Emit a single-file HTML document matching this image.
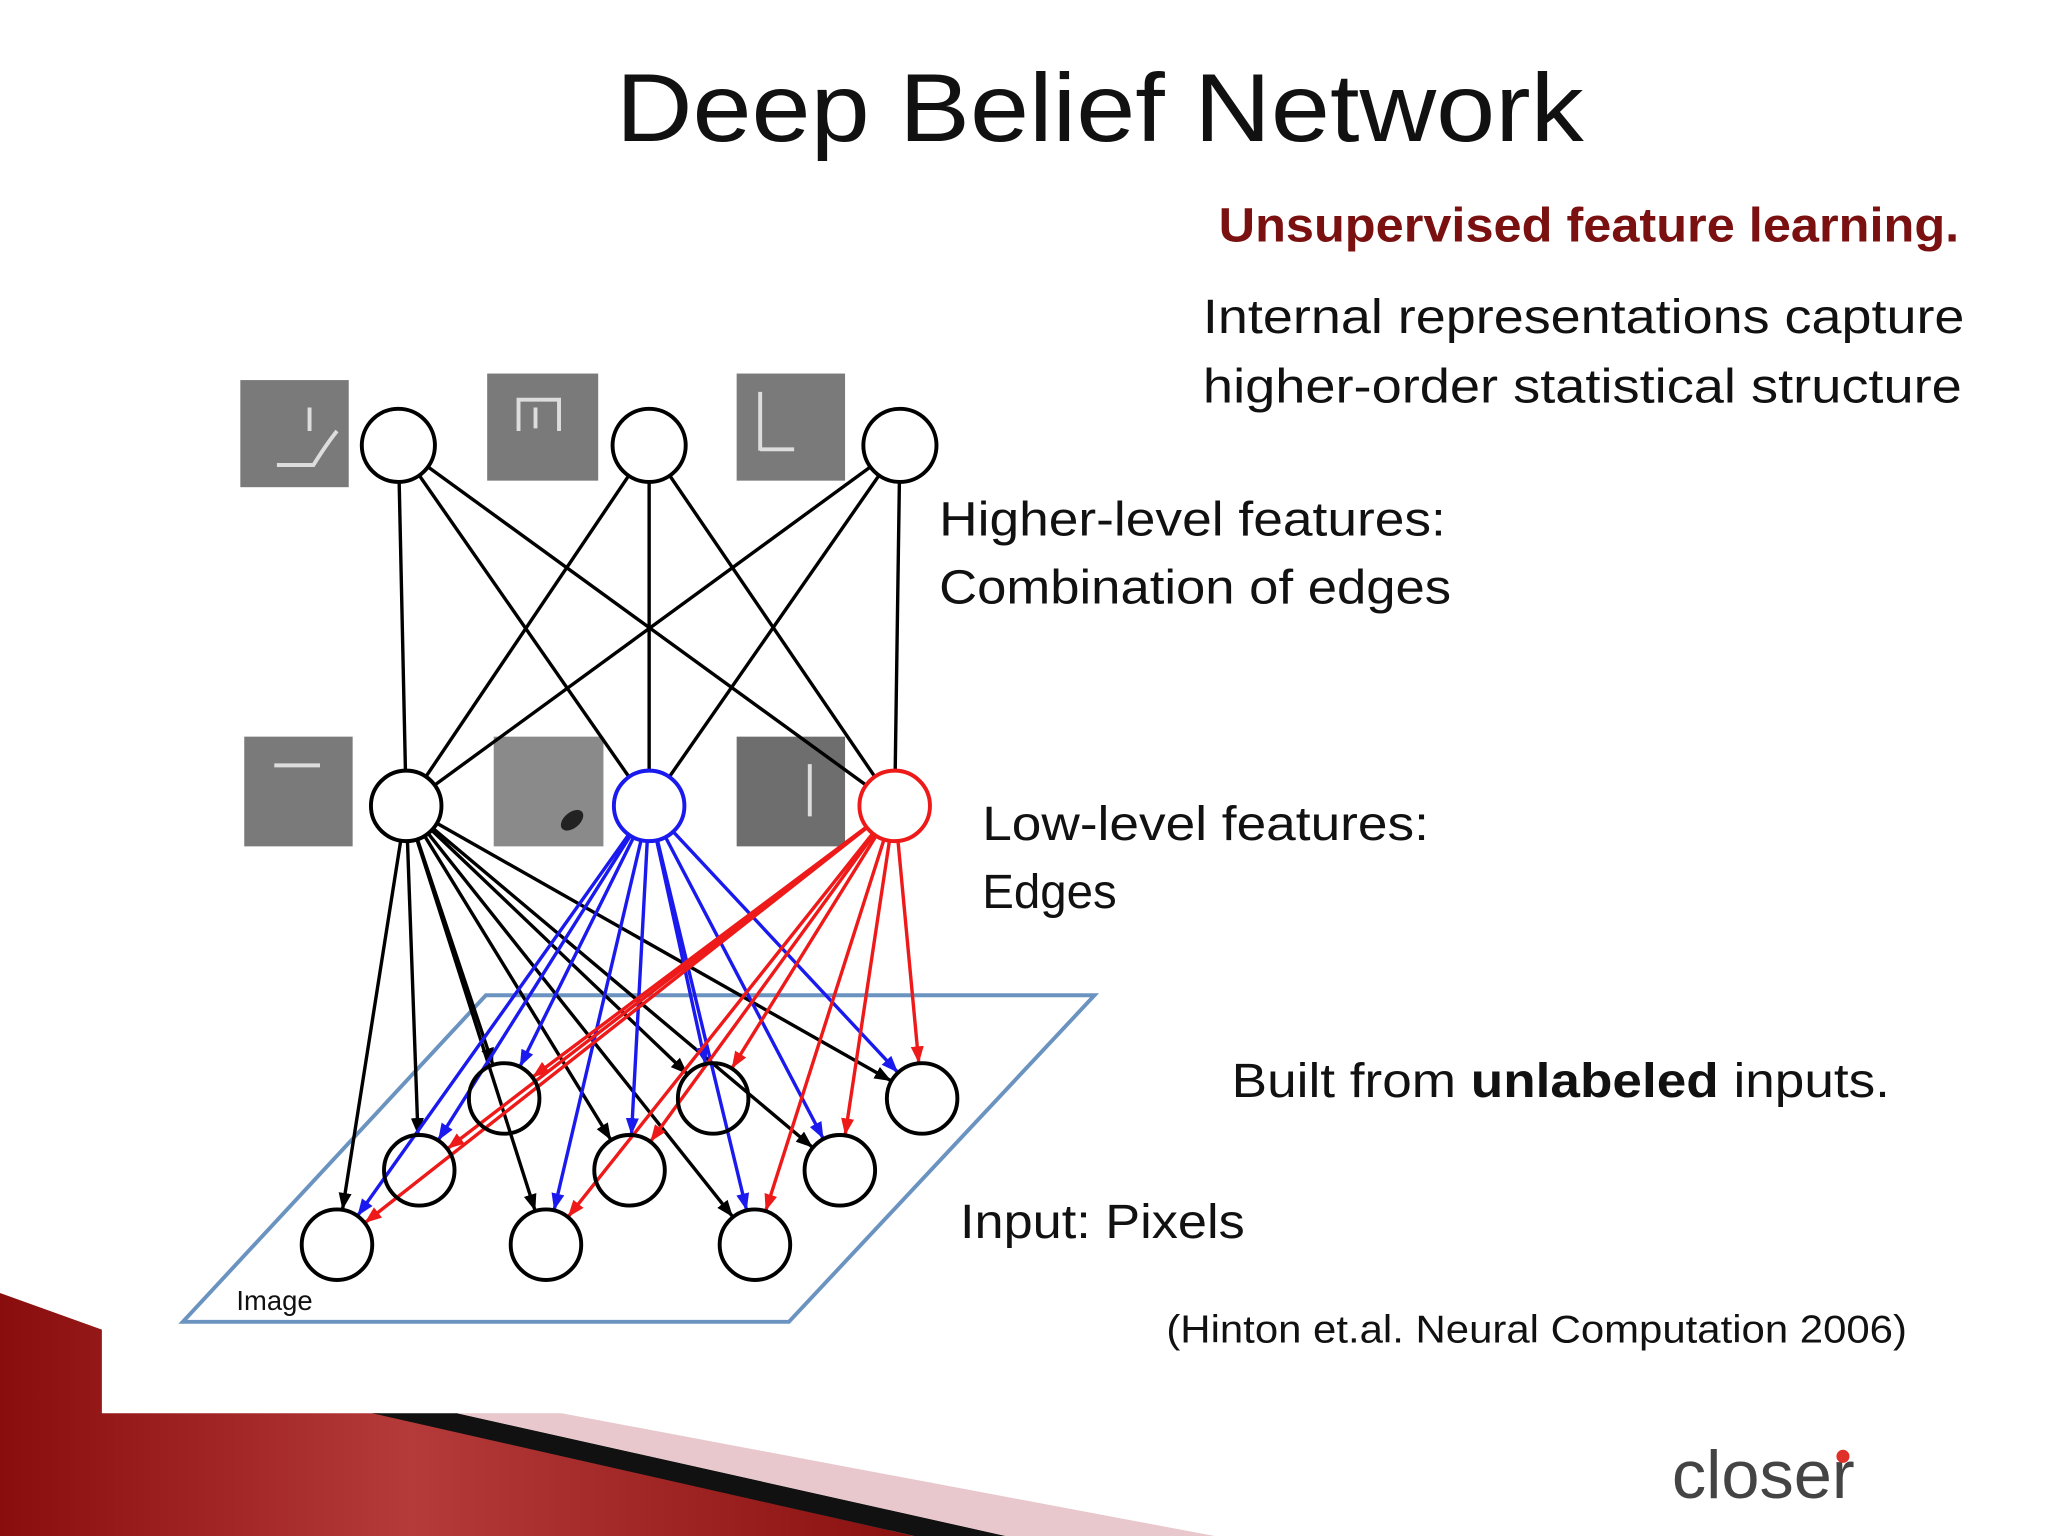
<!DOCTYPE html>
<html><head><meta charset="utf-8"><style>
html,body{margin:0;padding:0;background:#fff;}
svg{display:block;}
text{font-family:"Liberation Sans",sans-serif;}
</style></head><body>
<svg id="s" width="2048" height="1536" viewBox="0 0 1568 1176" xmlns="http://www.w3.org/2000/svg">
<defs>
<marker id="mk" markerWidth="13" markerHeight="12" refX="12" refY="6" orient="auto" markerUnits="userSpaceOnUse"><path d="M0,1 L13,6 L0,11 z" fill="#000"/></marker>
<marker id="mb" markerWidth="13" markerHeight="12" refX="12" refY="6" orient="auto" markerUnits="userSpaceOnUse"><path d="M0,1 L13,6 L0,11 z" fill="#1a1aee"/></marker>
<marker id="mr" markerWidth="13" markerHeight="12" refX="12" refY="6" orient="auto" markerUnits="userSpaceOnUse"><path d="M0,1 L13,6 L0,11 z" fill="#ee1a1a"/></marker>
<linearGradient id="rg" x1="0" y1="0" x2="1" y2="0">
<stop offset="0" stop-color="#8a0d0d"/><stop offset="0.45" stop-color="#b53a3a"/><stop offset="1" stop-color="#8a1010"/>
</linearGradient>
</defs>
<rect width="1568" height="1176" fill="#fff"/>
<polygon points="0,990 78,1018 78,1082 290,1082 700,1176 0,1176" fill="url(#rg)"/>
<polygon points="285,1082 350,1082 770,1176 700,1176" fill="#111"/>
<polygon points="350,1082 430,1082 930,1176 770,1176" fill="#e8c8cc"/>
<text x="842" y="108" font-size="74" text-anchor="middle" textLength="741" lengthAdjust="spacingAndGlyphs" fill="#111">Deep Belief Network</text>
<text x="933" y="185" font-size="37" font-weight="bold" fill="#7a1010" textLength="567" lengthAdjust="spacingAndGlyphs">Unsupervised feature learning.</text>
<text x="921" y="255" font-size="37" fill="#111" textLength="583" lengthAdjust="spacingAndGlyphs">Internal representations capture</text>
<text x="921" y="308" font-size="37" fill="#111" textLength="581" lengthAdjust="spacingAndGlyphs">higher-order statistical structure</text>
<text x="719" y="410" font-size="37" fill="#111" textLength="388" lengthAdjust="spacingAndGlyphs">Higher-level features:</text>
<text x="719" y="462" font-size="37" fill="#111" textLength="392" lengthAdjust="spacingAndGlyphs">Combination of edges</text>
<text x="752" y="643" font-size="37" fill="#111" textLength="342" lengthAdjust="spacingAndGlyphs">Low-level features:</text>
<text x="752" y="695" font-size="37" fill="#111" textLength="103" lengthAdjust="spacingAndGlyphs">Edges</text>
<text x="943" y="840" font-size="37" fill="#111" textLength="504" lengthAdjust="spacingAndGlyphs">Built from <tspan font-weight="bold">unlabeled</tspan> inputs.</text>
<text x="735" y="948" font-size="37" fill="#111" textLength="218" lengthAdjust="spacingAndGlyphs">Input: Pixels</text>
<text x="893" y="1028" font-size="30" fill="#111" textLength="567" lengthAdjust="spacingAndGlyphs">(Hinton et.al. Neural Computation 2006)</text>
<text x="1280" y="1147" font-size="52" fill="#444" textLength="140" lengthAdjust="spacingAndGlyphs">closer</text>
<circle cx="1411" cy="1115" r="5" fill="#e0302a"/>
<g fill="#7a7a7a">
<rect x="184" y="291" width="83" height="82"/><rect x="373" y="286" width="85" height="82"/><rect x="564" y="286" width="83" height="82"/>
<rect x="187" y="564" width="83" height="84"/><rect x="378" y="564" width="84" height="84" fill="#8a8a8a"/><rect x="564" y="564" width="83" height="84" fill="#6e6e6e"/>
</g>
<g stroke="#ddd" stroke-width="3" fill="none">
<path d="M212,356 L240,356 Q250,340 258,330 M237,330 L237,312"/>
<path d="M397,330 L397,306 L428,306 L428,330 M410,312 L410,328"/>
<path d="M582,345 L582,300 M582,344 L608,344"/>
<path d="M210,586 L245,586"/>
<path d="M620,585 L620,625"/>
</g>
<ellipse cx="438" cy="628" rx="10" ry="6" fill="#222" transform="rotate(-40 438 628)"/>
<polygon points="372,762 838,762 604,1012 140,1012" fill="none" stroke="#6b93c0" stroke-width="3"/>
<text x="181" y="1003" font-size="21" fill="#111">Image</text>
<g id="edges"></g>
<g id="nodes"></g>
</svg>
<script>
var ns="http://www.w3.org/2000/svg";
var top3=[[305,341],[497,341],[689,341]];
var mid=[[311,617,"#000","mk"],[497,617,"#1a1aee","mb"],[685,617,"#ee1a1a","mr"]];
var bot=[[386,841],[546,841],[706,841],[321,896],[482,896],[643,896],[258,953],[418,953],[578,953]];
var E=document.getElementById("edges"),N=document.getElementById("nodes");
function line(x1,y1,x2,y2,c,m){var l=document.createElementNS(ns,"line");l.setAttribute("x1",x1);l.setAttribute("y1",y1);l.setAttribute("x2",x2);l.setAttribute("y2",y2);l.setAttribute("stroke",c);l.setAttribute("stroke-width","2.6");if(m)l.setAttribute("marker-end","url(#"+m+")");E.appendChild(l);}
function circ(x,y,r,c){var e=document.createElementNS(ns,"circle");e.setAttribute("cx",x);e.setAttribute("cy",y);e.setAttribute("r",r);e.setAttribute("fill","#fff");e.setAttribute("stroke",c);e.setAttribute("stroke-width","3");N.appendChild(e);}
top3.forEach(function(t){mid.forEach(function(m){line(t[0],t[1],m[0],m[1],"#000");});});
mid.forEach(function(m){bot.forEach(function(b){var dx=b[0]-m[0],dy=b[1]-m[1],d=Math.sqrt(dx*dx+dy*dy);var sx=m[0]+dx/d*27,sy=m[1]+dy/d*27;var ex=b[0]-dx/d*28,ey=b[1]-dy/d*28;line(sx,sy,ex,ey,m[2],m[3]);});});
top3.forEach(function(t){circ(t[0],t[1],28,"#000");});
mid.forEach(function(m){circ(m[0],m[1],27,m[2]);});
bot.forEach(function(b){var e=document.createElementNS(ns,"circle");e.setAttribute("cx",b[0]);e.setAttribute("cy",b[1]);e.setAttribute("r",27);e.setAttribute("fill","none");e.setAttribute("stroke","#000");e.setAttribute("stroke-width","3");N.appendChild(e);});
</script>
</body></html>
